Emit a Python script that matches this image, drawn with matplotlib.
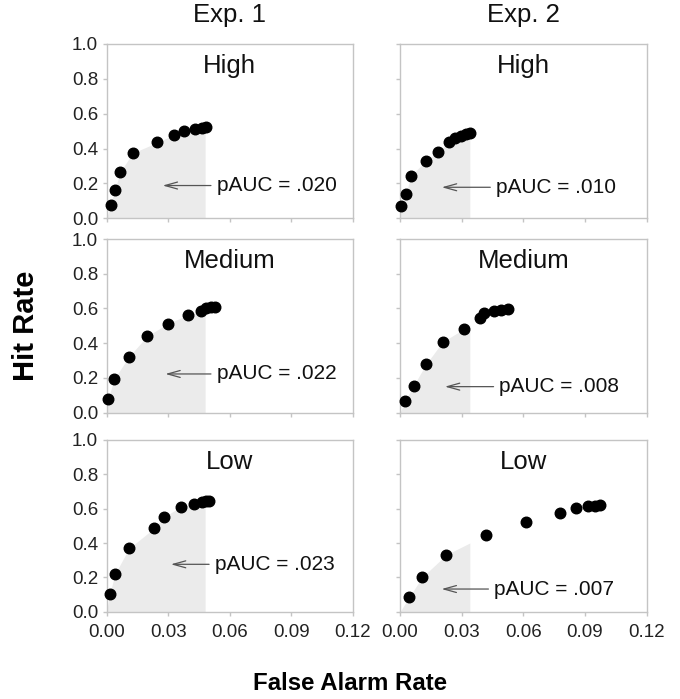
import matplotlib
matplotlib.use("Agg")
import matplotlib.pyplot as plt
import numpy as np

plt.rcParams['font.family'] = ['Liberation Sans', 'DejaVu Sans']

experiments = ["Exp. 1", "Exp. 2"]
conditions = ["High", "Medium", "Low"]

# Exp. 1 (false alarm rate, hit rate)
e1_high_x = [0.0020, 0.0040, 0.0068, 0.0127, 0.0247, 0.0328, 0.0377, 0.0431, 0.0463, 0.0485]
e1_high_y = [0.077, 0.163, 0.268, 0.374, 0.435, 0.479, 0.498, 0.511, 0.519, 0.523]
e1_med_x = [0.0008, 0.0037, 0.0109, 0.0198, 0.0298, 0.0398, 0.0460, 0.0483, 0.0507, 0.0528]
e1_med_y = [0.077, 0.194, 0.322, 0.441, 0.512, 0.564, 0.585, 0.601, 0.606, 0.606]
e1_low_x = [0.0016, 0.0041, 0.0110, 0.0231, 0.0281, 0.0361, 0.0426, 0.0463, 0.0483, 0.0498]
e1_low_y = [0.103, 0.219, 0.369, 0.485, 0.553, 0.610, 0.627, 0.641, 0.647, 0.647]

# Exp. 2
e2_high_x = [0.0003, 0.0028, 0.0054, 0.0126, 0.0185, 0.0238, 0.0267, 0.0295, 0.0320, 0.0341]
e2_high_y = [0.071, 0.140, 0.245, 0.330, 0.381, 0.435, 0.460, 0.473, 0.485, 0.492]
e2_med_x = [0.0025, 0.0066, 0.0126, 0.0207, 0.0311, 0.0389, 0.0410, 0.0459, 0.0492, 0.0525]
e2_med_y = [0.069, 0.155, 0.278, 0.407, 0.482, 0.543, 0.572, 0.585, 0.591, 0.595]
e2_low_x = [0.0044, 0.0107, 0.0226, 0.0421, 0.0613, 0.0777, 0.0857, 0.0915, 0.0951, 0.0975]
e2_low_y = [0.083, 0.200, 0.332, 0.449, 0.524, 0.577, 0.604, 0.614, 0.617, 0.619]

# partial AUC cutoffs (max false alarm rate) and values
pauc_cutoff = [0.048, 0.034]
pauc_labels = [[".020", ".022", ".023"], [".010", ".008", ".007"]]
# arrow tip positions (x, y) and text start x
arrow_tip = [[(0.026, 0.188), (0.0273, 0.223), (0.030, 0.276)],
             [(0.019, 0.178), (0.0205, 0.150), (0.0189, 0.132)]]
text_x = [[0.0537, 0.0537, 0.0528], [0.0468, 0.0484, 0.0459]]

data = [[(e1_high_x, e1_high_y), (e1_med_x, e1_med_y), (e1_low_x, e1_low_y)],
        [(e2_high_x, e2_high_y), (e2_med_x, e2_med_y), (e2_low_x, e2_low_y)]]

x_ticks = [0.00, 0.03, 0.06, 0.09, 0.12]
x_ticklabels = ["0.00", "0.03", "0.06", "0.09", "0.12"]
y_ticks = [0.0, 0.2, 0.4, 0.6, 0.8, 1.0]
y_ticklabels = ["0.0", "0.2", "0.4", "0.6", "0.8", "1.0"]

W, H = 680, 699
fig = plt.figure(figsize=(W / 100, H / 100), dpi=100)

col_x = [106.5, 400]
col_w = 246.5
rows = [(44, 218.3), (239, 412.7), (440, 611.7)]

spine_col = "#c4c4c4"
for c in range(2):
    for r in range(3):
        top, bot = rows[r]
        ax = fig.add_axes([col_x[c] / W, 1 - bot / H, col_w / W, (bot - top) / H])
        xs, ys = data[c][r]
        cut = pauc_cutoff[c]
        xa = np.array([0.0] + list(xs))
        ya = np.array([0.0] + list(ys))
        m = xa <= cut
        fx = np.append(xa[m], cut)
        fy = np.append(ya[m], np.interp(cut, xa, ya))
        ax.fill_between(fx, 0, fy, color="#ebebeb", lw=0, zorder=1)
        ax.plot(xs, ys, 'o', color='black', markersize=7.6, clip_on=False, zorder=3)
        tx, ty = arrow_tip[c][r]
        ax.annotate("", xy=(tx, ty), xytext=(text_x[c][r] - 0.0015, ty),
                    arrowprops=dict(arrowstyle="->,head_length=0.9,head_width=0.25",
                                    color="#555555", lw=0.9), zorder=4)
        ax.text(text_x[c][r], ty, "pAUC = " + pauc_labels[c][r], fontsize=15,
                va='center', ha='left', color='#111111', zorder=4)
        ax.text(0.5, 0.94, conditions[r], transform=ax.transAxes, fontsize=18.5,
                ha='center', va='top', color='#111111')
        ax.set_xlim(0, 0.12)
        ax.set_ylim(0, 1.0)
        ax.set_xticks(x_ticks)
        ax.set_yticks(y_ticks)
        if c == 0:
            ax.set_yticklabels(y_ticklabels, fontsize=13.5, color='#222222')
        else:
            ax.set_yticklabels([])
        if r == 2:
            ax.set_xticklabels(x_ticklabels, fontsize=13.5, color='#222222')
        else:
            ax.set_xticklabels([])
        for s in ax.spines.values():
            s.set_color(spine_col)
            s.set_linewidth(1.0)
        ax.tick_params(color=spine_col, length=3, width=1, pad=3)
        ax.tick_params(axis='x', pad=6)
        if r == 0:
            ax.text(0.5, 1.1, experiments[c], transform=ax.transAxes, fontsize=18.5,
                    ha='center', va='bottom', color='#111111')

fig.text(26 / W, 1 - 326 / H, "Hit Rate", rotation=90, fontsize=21, fontweight='bold',
         ha='center', va='center')
fig.text(350 / W, 1 - 684 / H, "False Alarm Rate", fontsize=17.3, fontweight='bold',
         ha='center', va='center')

fig.savefig("out.png", dpi=100)
